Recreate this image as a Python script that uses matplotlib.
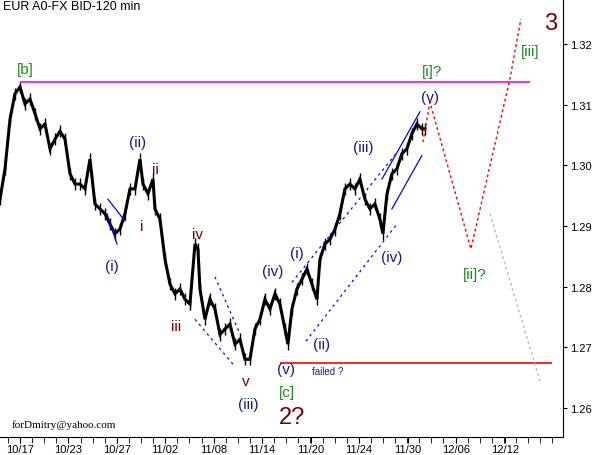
import matplotlib.pyplot as plt
import numpy as np

plt.rcParams['font.family'] = ['Liberation Sans', 'DejaVu Sans']

# price path (bar position, mid price)
bar_x = (list(range(0, 145, 5)) + [143, 148, 153, 155] + list(range(160, 200, 5)) + [198]
         + list(range(200, 290, 5)) + [288, 292, 297, 302, 307, 312, 317]
         + list(range(320, 385, 5)) + [383, 387, 392, 397, 402, 407, 412, 417, 422, 425])
mid = [1.2944, 1.2994, 1.3076, 1.3118, 1.3129, 1.3101, 1.3109, 1.3085, 1.3060, 1.3068,
       1.3027, 1.3043, 1.3056, 1.3043, 1.2986, 1.2969, 1.2969, 1.2961, 1.3010, 1.2936,
       1.2928, 1.2920, 1.2903, 1.2887, 1.2895, 1.2920, 1.2961, 1.2961, 1.3010, 1.2969,
       1.2953, 1.2977, 1.2928, 1.2911, 1.2845, 1.2804, 1.2788, 1.2796, 1.2779, 1.2771,
       1.2870, 1.2862, 1.2796, 1.2746, 1.2779, 1.2763, 1.2721, 1.2730, 1.2738, 1.2705,
       1.2713, 1.2680, 1.2680, 1.2730, 1.2746, 1.2779, 1.2763, 1.2788, 1.2771, 1.2730,
       1.2705, 1.2763, 1.2796, 1.2812, 1.2829, 1.2804, 1.2779, 1.2845, 1.2870, 1.2878,
       1.2894, 1.2920, 1.2961, 1.2969, 1.2961, 1.2977, 1.2944, 1.2928, 1.2936, 1.2911,
       1.2887, 1.2952, 1.2986, 1.2994, 1.3019, 1.3027, 1.3052, 1.3068, 1.3060, 1.3060]

date_pos = [20, 68, 117, 165, 214, 262, 311, 359, 408, 456, 505]
date_lbl = ['10/17', '10/23', '10/27', '11/02', '11/08', '11/14', '11/20', '11/24', '11/30', '12/06', '12/12']
yticks = [1.26, 1.27, 1.28, 1.29, 1.30, 1.31, 1.32]

resist = 1.3137
support = 1.2674
proj_x = [423, 430, 471, 510, 521]
proj_y = [1.3038, 1.3104, 1.2862, 1.3142, 1.3241]
alt_x = [490, 541]
alt_y = [1.2920, 1.2639]

# (x0, y0, x1, y1, style)
channels = [
    (108, 1.2944, 125, 1.2908, '-'), (107, 1.2920, 117, 1.2870, '-'),
    (195, 1.2746, 233, 1.2672, '--'), (215, 1.2816, 240, 1.2722, '--'),
    (292, 1.2807, 398, 1.3023, '--'), (306, 1.2710, 397, 1.2903, '--'),
    (382, 1.2977, 420, 1.3088, '-'), (392, 1.2928, 422, 1.3016, '-'),
]

navy, dred, green = '#1a1a8c', '#7a0000', '#1a8a1a'
labels = [
    ('[b]', 25, 1.3159, green, 11), ('(ii)', 138, 1.3038, navy, 11), ('ii', 155, 1.2994, dred, 11),
    ('i', 142, 1.2900, dred, 11), ('(i)', 112, 1.2834, navy, 11), ('iv', 198, 1.2887, dred, 11),
    ('iii', 176, 1.2735, dred, 11), ('v', 246, 1.2644, dred, 11), ('(iii)', 248, 1.2606, navy, 11),
    ('(iv)', 273, 1.2825, navy, 11), ('(i)', 297, 1.2855, navy, 11), ('(ii)', 322, 1.2705, navy, 11),
    ('(v)', 286, 1.2664, navy, 11), ('[c]', 287, 1.2626, green, 11), ('2?', 292, 1.2585, dred, 17),
    ('(iii)', 363, 1.3030, navy, 11), ('(iv)', 392, 1.2849, navy, 11), ('(v)', 430, 1.3113, navy, 11),
    ('[i]?', 432, 1.3156, green, 11), ('[ii]?', 475, 1.2821, green, 11), ('[iii]', 530, 1.3188, green, 11),
    ('3', 551, 1.3235, dred, 17),
]

fig = plt.figure(figsize=(5.95, 4.56), dpi=100)
ax = fig.add_axes([0.0, 0.0395, 0.946, 0.9605])

ax.plot(bar_x, mid, color='black', lw=2.2, solid_joinstyle='miter')
ax.vlines(bar_x, np.array(mid) - 0.0010, np.array(mid) + 0.0010, color='black', lw=1)

ax.hlines(resist, 20, 530, color='#ff00ff', lw=1.2)
ax.hlines(support, 280, 552, color='red', lw=1.2)
ax.plot(proj_x, proj_y, color='red', ls=(0, (2, 2)), lw=1)
ax.plot(alt_x, alt_y, color='#bbbbbb', ls=(0, (2, 2)), lw=1)
for x0, y0, x1, y1, st in channels:
    ax.plot([x0, x1], [y0, y1], color='blue', lw=0.9, ls=st if st == '-' else (0, (2, 3)))

for t, x, y, c, s in labels:
    ax.text(x, y, t, color=c, fontsize=s, ha='center', va='center')
ax.text(312, 1.2661, 'failed ?', color=navy, fontsize=7, ha='left', va='center')
ax.text(12, 1.2573, 'forDmitry@yahoo.com', family='Liberation Serif', fontsize=8, ha='left', va='center')
ax.text(3, 1.3262, 'EUR A0-FX BID-120 min', fontsize=9, ha='left', va='center')

ax.set_xlim(0, 563)
ax.set_ylim(1.2552, 1.3274)
ax.yaxis.tick_right()
ax.set_yticks(yticks)
ax.set_yticklabels([f'{v:.2f}' for v in yticks], fontsize=8)
ax.set_xticks(date_pos)
ax.set_xticklabels(date_lbl, fontsize=8)
ax.set_xticks(np.arange(8, 563, 12.1), minor=True)
ax.tick_params(axis='x', which='both', direction='out', length=4, pad=1)
ax.tick_params(axis='y', direction='out', length=3, pad=2)
for s in ['top', 'left']:
    ax.spines[s].set_visible(False)

fig.savefig('out.png', dpi=100)
